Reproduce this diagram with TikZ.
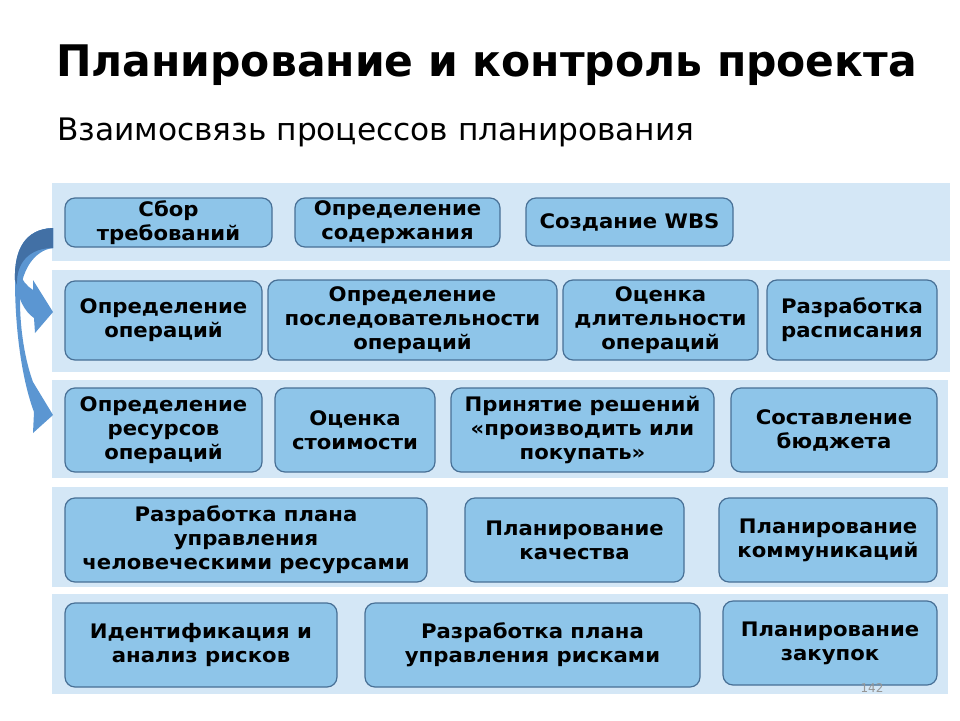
\documentclass[tikz,border=0pt]{standalone}
\usepackage{fontspec}
\setmainfont{DejaVu Sans}
\newfontfamily\titlefont[FakeStretch=1.085]{DejaVu Sans Condensed}
\newfontfamily\subfont[FakeStretch=1.12]{DejaVu Sans Condensed}
\newfontfamily\boxfont[FakeStretch=1.06]{DejaVu Sans}
\definecolor{bandc}{RGB}{212,231,246}
\definecolor{boxc}{RGB}{142,197,233}
\definecolor{boxd}{RGB}{72,112,150}
\definecolor{arrl}{RGB}{91,150,210}
\definecolor{arrd}{RGB}{66,112,165}
\definecolor{pgc}{RGB}{150,150,150}
\newcommand\mkbox[7]{\node[#1, minimum width={(#4-#2)*1pt}, minimum height={(#5-#3)*1pt}] (#6) at ({(#2+#4)/2},{(#3+#5)/2}) {#7};}
\tikzset{
  bandbox/.style={rectangle, fill=bandc, draw=none, inner sep=0pt},
  pbox/.style={rectangle, fill=boxc, draw=boxd, line width=1.2pt, rounded corners=10pt, inner sep=0pt, align=center, text=black, font={\boxfont\bfseries\fontsize{20}{24}\selectfont}},
}
\begin{document}
\begin{tikzpicture}[x=1pt,y=-1pt]
\useasboundingbox (0,0) rectangle (960,720);
\fill[white] (0,0) rectangle (960,720);
% title
\node[anchor=base west, inner sep=0pt, font={\titlefont\bfseries\fontsize{43.5}{50}\selectfont}] (title) at (56,76) {Планирование и контроль проекта};
\node[anchor=base west, inner sep=0pt, font={\subfont\fontsize{31}{36}\selectfont}] (subtitle) at (57,140) {Взаимосвязь процессов планирования};
% bands
\mkbox{bandbox}{52}{183}{950}{261}{band1}{}
\mkbox{bandbox}{52}{270}{950}{372}{band2}{}
\mkbox{bandbox}{52}{380}{948}{478}{band3}{}
\mkbox{bandbox}{52}{487}{948}{587}{band4}{}
\mkbox{bandbox}{52}{594}{948}{694}{band5}{}
% row 1
\mkbox{pbox}{65}{198}{272}{247}{sbor}{Сбор\\требований}
\mkbox{pbox}{295}{198}{500}{247}{sod}{Определение\\содержания}
\mkbox{pbox}{526}{198}{733}{246}{wbs}{Создание WBS}
% row 2
\mkbox{pbox}{65}{281}{262}{360}{oper}{Определение\\операций}
\mkbox{pbox}{268}{280}{557}{360}{posl}{Определение\\последовательности\\операций}
\mkbox{pbox}{563}{280}{758}{360}{dlit}{Оценка\\длительности\\операций}
\mkbox{pbox}{767}{280}{937}{360}{rasp}{Разработка\\расписания}
% row 3
\mkbox{pbox}{65}{388}{262}{472}{res}{Определение\\ресурсов\\операций}
\mkbox{pbox}{275}{388}{435}{472}{stoim}{Оценка\\стоимости}
\mkbox{pbox}{451}{388}{714}{472}{resh}{Принятие решений\\«производить или\\покупать»}
\mkbox{pbox}{731}{388}{937}{472}{budg}{Составление\\бюджета}
% row 4
\mkbox{pbox}{65}{498}{427}{582}{hr}{Разработка плана\\управления\\человеческими ресурсами}
\mkbox{pbox}{465}{498}{684}{582}{qual}{Планирование\\качества}
\mkbox{pbox}{719}{498}{937}{582}{comm}{Планирование\\коммуникаций}
% row 5
\mkbox{pbox}{65}{603}{337}{687}{risk}{Идентификация и\\анализ рисков}
\mkbox{pbox}{365}{603}{700}{687}{rplan}{Разработка плана\\управления рисками}
\mkbox{pbox}{723}{601}{937}{685}{zak}{Планирование\\закупок}
% page number
\node[inner sep=0pt, text=pgc, font={\fontsize{12}{14}\selectfont}] (pg) at (872,688) {142};
% curved arrows
\fill[arrl] (53,228) .. controls (25,229) and (14,250) .. (15,280)
  .. controls (15,330) and (22,380) .. (34,412) -- (33,433) -- (53,415) -- (33,382)
  .. controls (25,360) and (20,330) .. (20,300) .. controls (20,270) and (35,250) .. (53,248) -- cycle;
\fill[arrl] (53,228) .. controls (25,229) and (14,250) .. (16,280)
  .. controls (17,298) and (25,312) .. (34,318) -- (35,333) -- (53,312) -- (33,280) -- (33,290)
  .. controls (27,286) and (21,280) .. (20,272) .. controls (22,262) and (35,249) .. (53,248) -- cycle;
\fill[arrd] (53,228) .. controls (25,229) and (14,250) .. (15,280) -- (17,285)
  .. controls (16,262) and (30,248) .. (53,248) -- cycle;
\end{tikzpicture}
\end{document}
